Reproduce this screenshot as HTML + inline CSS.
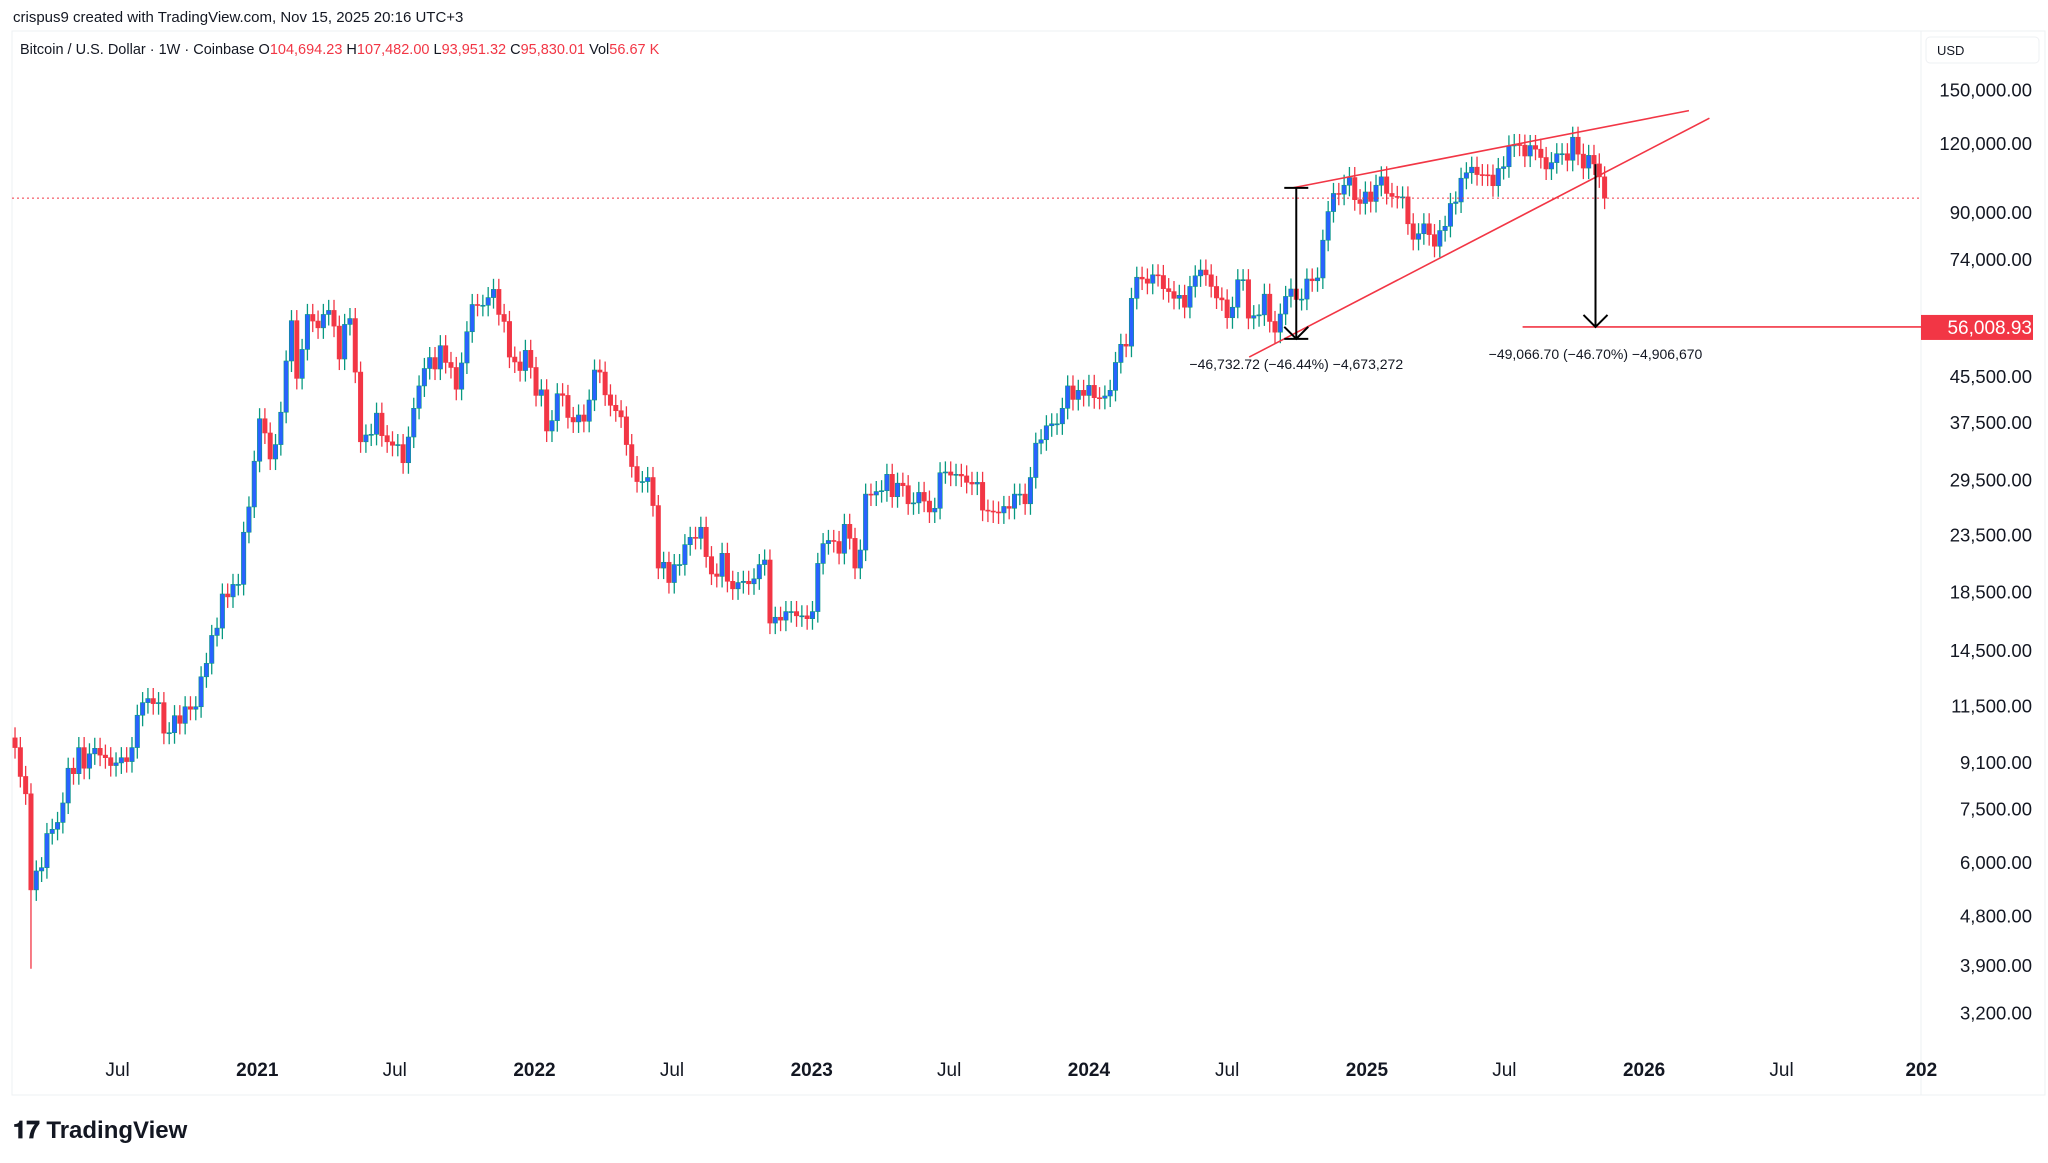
<!DOCTYPE html>
<html><head><meta charset="utf-8"><style>
body{margin:0;background:#fff;width:2048px;height:1158px;overflow:hidden;font-family:"Liberation Sans",sans-serif}
svg text{font-family:"Liberation Sans",sans-serif}
</style></head><body>
<svg id="c" width="2048" height="1158">
<text x="13" y="22" font-size="15" fill="#131722">crispus9 created with TradingView.com, Nov 15, 2025 20:16 UTC+3</text>
<rect x="12" y="31" width="2033" height="1064" fill="none" stroke="#eef0f3"/>
<line x1="1921" y1="31" x2="1921" y2="1095" stroke="#eef0f3"/>
<text x="20" y="54" font-size="14.5" fill="#131722">Bitcoin / U.S. Dollar · 1W · Coinbase  O<tspan fill="#f23645">104,694.23</tspan>  H<tspan fill="#f23645">107,482.00</tspan>  L<tspan fill="#f23645">93,951.32</tspan>  C<tspan fill="#f23645">95,830.01</tspan>  Vol<tspan fill="#f23645">56.67 K</tspan></text>
<rect x="1926" y="37" width="113" height="26" rx="4" fill="#fff" stroke="#eef0f3"/>
<text x="1937" y="55" font-size="13" fill="#131722">USD</text>
<g id="grid"></g><g id="candles"></g><g id="axes"></g><g id="ann"></g>
<text x="13" y="1138" font-size="24" font-weight="bold" fill="#131722">𝟏𝟕 TradingView</text>
</svg>
<script>
const closes=[9700,8600,8000,5360,5800,5880,6780,6900,7100,7700,8900,8700,9700,8900,9450,9670,9400,9300,9000,9100,9300,9150,9700,11100,11700,11900,11650,11700,10300,10320,11080,10730,11500,11380,11500,13030,13780,15480,15960,18400,18180,19150,19150,23800,26450,32000,38200,36000,32300,34300,39250,48600,57500,45200,51000,59000,57400,55800,59000,60000,56200,49000,56600,58000,46400,34700,35700,35800,39100,35600,34700,34200,34300,31800,35400,39900,43800,47100,49300,47000,51800,48300,47300,43200,48200,54900,61500,61300,61300,63300,65500,59000,57300,49400,48400,46700,50800,47300,42100,43100,36300,37900,42400,42100,38400,37700,38800,37800,41300,46800,46400,42200,40400,39500,38500,34300,31300,29400,29400,29900,26600,20500,21000,19300,20800,20800,22600,23300,23200,24300,21500,20000,19800,21800,19400,18800,19300,19400,19200,19600,20800,21200,16300,16700,16500,17100,17100,16800,16800,16600,17100,20900,22700,23000,22900,21800,24600,23200,20500,22100,27900,27800,28200,28300,30300,27600,29200,28900,26800,26900,28100,27100,25900,26300,30500,30600,30200,30300,30100,29300,29100,29300,26100,26000,25900,25800,26500,26300,27900,27900,26800,29900,34500,35000,37100,37400,37400,39900,43800,41400,43000,42100,43900,41700,41600,42000,43000,48300,52100,51700,63100,68900,68400,67200,69600,69400,65700,64900,63100,63900,60800,66300,69300,71000,69600,66300,63200,62700,58200,60800,68200,68200,58100,58700,58900,64200,57300,54800,59100,63600,65600,62800,62900,68400,67900,68700,80400,90600,97700,97400,101100,104400,95200,93700,98300,94500,101100,104700,97700,96500,96100,96300,86100,80700,82600,86100,82300,78400,83700,85200,93700,94300,104100,106500,109000,105700,105600,105500,100900,108400,109200,119100,119800,119500,114200,119300,117500,113500,108200,111100,115300,115300,112200,123500,115100,108600,114500,110500,104700,95830];
const firstOpen=10100;
const lastWeek="2025-11-10";
const priceTicks=[150000,120000,90000,74000,56000,45500,37500,29500,23500,18500,14500,11500,9100,7500,6000,4800,3900,3200];
const timeTicks=[["2020-07-01","Jul",0],["2021-01-01","2021",1],["2021-07-01","Jul",0],["2022-01-01","2022",1],["2022-07-01","Jul",0],["2023-01-01","2023",1],["2023-07-01","Jul",0],["2024-01-01","2024",1],["2024-07-01","Jul",0],["2025-01-01","2025",1],["2025-07-01","Jul",0],["2026-01-01","2026",1],["2026-07-01","Jul",0],["2027-01-01","202",1]];
const wedgeUpper=[["2024-09-25",100000],["2026-03-01",138000]];
const wedgeLower=[["2024-07-30",49400],["2026-03-28",133700]];
const arrow1=["2024-09-30",100000,53300];
const arrow2=["2025-10-29",110400,56008.93];
const targetPrice=56008.93, lastClose=95830.01;
const NS="http://www.w3.org/2000/svg";
const T0=Date.UTC(2021,0,1),YR=365.25*864e5;
function X(d){const t=typeof d==="string"?Date.parse(d+"T00:00:00Z"):d;return 257.3+(t-T0)/YR*277.4;}
function Y(p){return 90.6+(Math.log10(150000)-Math.log10(p))*552.4;}
function el(tag,attrs,parent){const e=document.createElementNS(NS,tag);for(const k in attrs)e.setAttribute(k,attrs[k]);parent.appendChild(e);return e;}
const gC=document.getElementById('candles'),gA=document.getElementById('ann'),gX=document.getElementById('axes');
const lastT=Date.parse(lastWeek+"T00:00:00Z"),n=closes.length;
for(let i=0;i<n;i++){
 const o=i?closes[i-1]:firstOpen,c=closes[i];
 const t=lastT-(n-1-i)*7*864e5;const x=X(t);
 const up=c>=o;const hi=Math.max(o,c)*1.045,lo=Math.min(o,c)*(i===3?0.72:0.955);
 const w=el('line',{x1:x,x2:x,y1:Y(hi),y2:Y(lo),stroke:up?'#089981':'#f23645','stroke-width':1.3},gC);
 
 
 const yt=Y(Math.max(o,c)),yb=Y(Math.min(o,c));
 const b=el('rect',{x:x-2.2,y:yt,width:4.4,height:Math.max(1,yb-yt),fill:up?'#2962ff':'#f23645',stroke:up?'#089981':'#f23645','stroke-width':0.6},gC);
 
 
}
priceTicks.forEach(p=>{const t=el('text',{x:2032,y:Y(p)+6,'font-size':18.5,fill:'#131722','text-anchor':'end'},gX);t.textContent=p.toLocaleString('en-US')+'.00';
 
 });
timeTicks.forEach(([d,l,b])=>{const t=el('text',{x:X(d),y:1076,'font-size':19,'font-weight':b?'bold':'normal',fill:'#131722','text-anchor':'middle'},gX);t.textContent=l;
 
 });
const dl=el('line',{x1:12,x2:1921,y1:Y(lastClose),y2:Y(lastClose),stroke:'#f23645','stroke-width':1,'stroke-dasharray':'2 3'},gA);


[wedgeUpper,wedgeLower].forEach((L,k)=>{const l=el('line',{x1:X(L[0][0]),y1:Y(L[0][1]),x2:X(L[1][0]),y2:Y(L[1][1]),stroke:'#f23645','stroke-width':1.6},gA);
 
 });
const tl=el('line',{x1:X("2025-07-25"),x2:1921,y1:Y(targetPrice),y2:Y(targetPrice),stroke:'#f23645','stroke-width':1.6},gA);


const tb=el('rect',{x:1921,y:Y(targetPrice)-12,width:112,height:25,fill:'#f23645'},gA);


const tt=el('text',{x:2032,y:Y(targetPrice)+7,'font-size':19,fill:'#fff','text-anchor':'end'},gA);tt.textContent='56,008.93';


function arrow(a,caps,label,ly,name){const x=X(a[0]),y1=Y(a[1]),y2=Y(a[2]);
 const g=el('g',{stroke:'#000','stroke-width':2,fill:'none'},gA);
 
 
 el('line',{x1:x,x2:x,y1:y1,y2:y2},g);
 el('polyline',{points:`${x-12},${y2-12} ${x},${y2} ${x+12},${y2-12}`},g);
 if(caps){el('line',{x1:x-12,x2:x+12,y1:y1,y2:y1},g);el('line',{x1:x-12,x2:x+12,y1:y2,y2:y2},g);}
 const t=el('text',{x:x,y:ly,'font-size':14,fill:'#131722','text-anchor':'middle'},gA);t.textContent=label;
 
 }
arrow(arrow1,true,'−46,732.72 (−46.44%) −4,673,272',369,'measure-arrow-1');
arrow(arrow2,false,'−49,066.70 (−46.70%) −4,906,670',359,'measure-arrow-2');
</script>
</body></html>
